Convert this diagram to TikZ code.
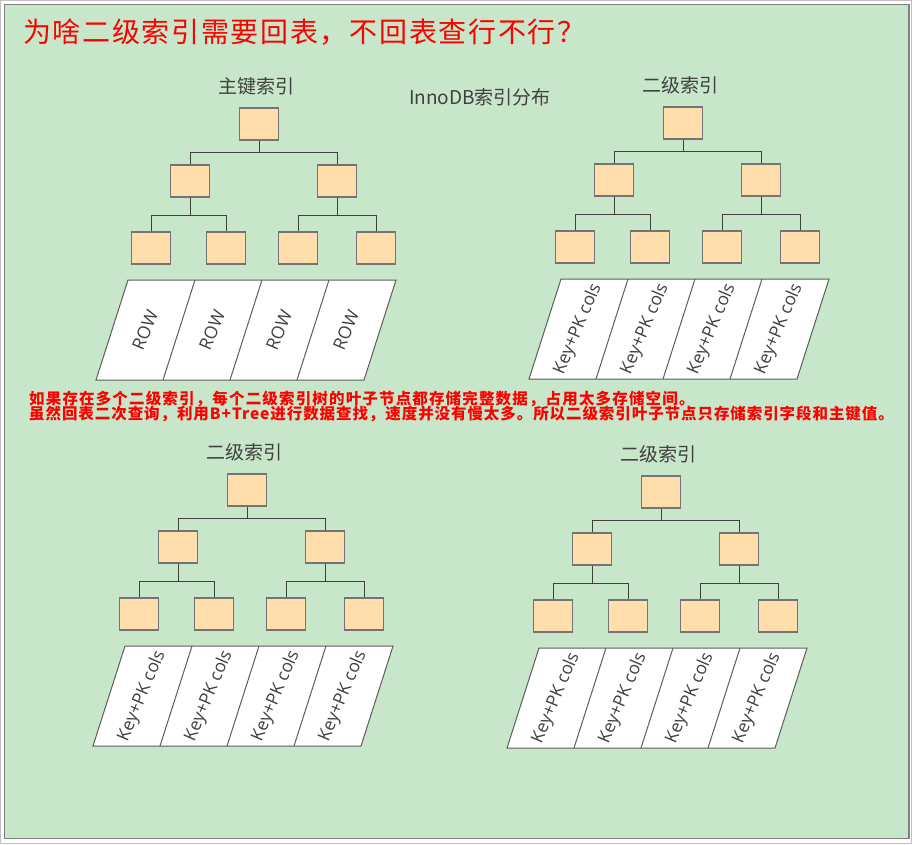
\documentclass[tikz,border=0pt]{standalone}
\usepackage{fontspec}
\setmainfont{Noto Sans CJK SC}
\newfontfamily\latinfont{Open Sans}
\definecolor{bggreen}{HTML}{C8E6C9}
\definecolor{peach}{HTML}{FFDEAD}
\definecolor{ink}{HTML}{404040}
\definecolor{rim}{HTML}{747474}
\begin{document}
\begin{tikzpicture}[x=1pt, y=-1pt,
  box/.style = {draw=rim, line width=1.3pt, fill=peach, minimum width=39pt, minimum height=32pt, inner sep=0pt},
  link/.style = {draw=ink, line width=0.9pt},
  treename/.style = {text=ink, inner sep=0pt, font=\fontsize{19}{19}\selectfont},
  leafpage/.style = {draw=ink!85, line width=1pt, fill=white},
  rowtext/.style = {text=ink, inner sep=0pt, rotate=67, font=\latinfont\fontsize{17.5}{17.5}\selectfont},
  note/.style = {anchor=west, text=red, inner sep=0pt, font=\bfseries\fontsize{15.5}{15}\selectfont\addfontfeature{LetterSpace=#1}}]

			\useasboundingbox (0,0) rectangle (912,844);
			\draw[gray!50, fill=white] (0.5,0.5) rectangle (911.5,843.5);
			\draw[gray, line width=1.2pt, fill=bggreen] (4.5,4.5) rectangle (909,838.5);

			\node[anchor=west, text=red, inner sep=0pt, font=\fontsize{28}{30}\selectfont\addfontfeature{LetterSpace=6}] (title) at (23,32) {为啥二级索引需要回表，不回表查行不行？};
			\node[treename] (overview) at (480,97) {InnoDB索引分布};
			\node[note=7.5] (note1) at (29,399) {如果存在多个二级索引，每个二级索引树的叶子节点都存储完整数据，占用太多存储空间。};
			\node[note=6] (note2) at (29,414) {虽然回表二次查询，利用B+Tree进行数据查找，速度并没有慢太多。所以二级索引叶子节点只存储索引字段和主键值。};

			\foreach \t/\x/\y/\s/\head/\rowtxt in {a/259/124/-9/主键索引/ROW, b/683/123/0/二级索引/Key+PK cols, c/247/490/0/二级索引/Key+PK cols, d/661/492/0/二级索引/Key+PK cols} {
				\node[treename] (\t-name) at (\x-3,\y-38) {\head};
				\node[box] (\t-r) at (\x,\y) {};
				\node[box] (\t-1) at (\x-69,\y+57) {};
				\node[box] (\t-2) at (\x+78,\y+57) {};
				\node[box] (\t-11) at (\x-108,\y+124) {};
				\node[box] (\t-12) at (\x-33,\y+124) {};
				\node[box] (\t-21) at (\x+39,\y+124) {};
				\node[box] (\t-22) at (\x+117,\y+124) {};

				\draw[link] (\t-r.south) -- ++(0,12) -| (\t-1.north);
				\draw[link] (\t-r.south) -- ++(0,12) -| (\t-2.north);
				\draw[link] (\t-1.south) -- ++(0,17.5) -| (\t-11.north);
				\draw[link] (\t-1.south) -- ++(0,17.5) -| (\t-12.north);
				\draw[link] (\t-2.south) -- ++(0,17.5) -| (\t-21.north);
				\draw[link] (\t-2.south) -- ++(0,17.5) -| (\t-22.north);

				% leaf page
				\draw[leafpage] (\x+\s-122,\y+156) -- (\x+\s+146,\y+156) -- (\x+\s+114,\y+256) -- (\x+\s-154,\y+256) -- cycle;
				\foreach \k in {1,2,3}
					\draw[leafpage] (\x+\s-122+67*\k,\y+156) -- (\x+\s-154+67*\k,\y+256);
				\foreach \k in {0,...,3}
					\node[rowtext] (\t-c\k) at (\x+\s-105+67*\k,\y+206) {\rowtxt};
			}
		\end{tikzpicture}
\end{document}
